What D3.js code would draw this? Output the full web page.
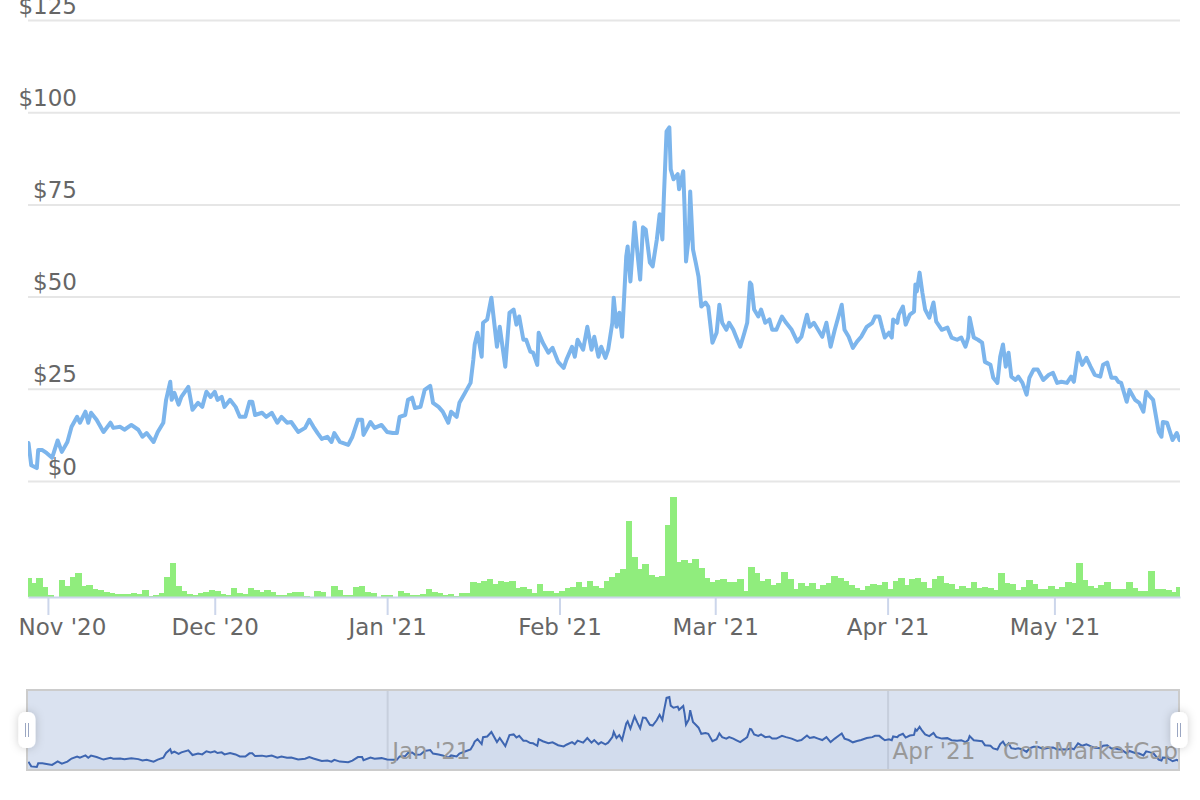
<!DOCTYPE html>
<html lang="en">
<head>
    <meta charset="UTF-8">
    <title>Price and volume</title>
    <style>
        body { margin: 0; background: #ffffff; }
        svg { display: block; font-family: "DejaVu Sans", sans-serif; }
    </style>
</head>
<body>
<svg id="chart"></svg>
<script src="https://d3js.org/d3.v7.min.js"></script>
<script>
    // price (USD)
    var priceTimes = [
        "2020-10-28 12", "2020-10-29 00", "2020-10-30 00", "2020-10-30 06", "2020-10-31 00", "2020-10-31 18",
        "2020-11-01 18", "2020-11-02 18", "2020-11-03 12", "2020-11-04 12", "2020-11-05 06", "2020-11-06 06",
        "2020-11-06 18", "2020-11-07 18", "2020-11-08 06", "2020-11-08 18", "2020-11-09 18", "2020-11-11 00",
        "2020-11-12 06", "2020-11-12 18", "2020-11-14 00", "2020-11-14 18", "2020-11-16 00", "2020-11-17 06",
        "2020-11-18 00", "2020-11-18 18", "2020-11-20 00", "2020-11-20 18", "2020-11-21 18", "2020-11-22 06",
        "2020-11-23 00", "2020-11-23 06", "2020-11-23 18", "2020-11-24 12", "2020-11-25 00", "2020-11-26 06",
        "2020-11-27 00", "2020-11-28 00", "2020-11-28 18", "2020-11-29 12", "2020-11-30 06", "2020-12-01 00",
        "2020-12-01 12", "2020-12-02 06", "2020-12-02 18", "2020-12-03 18", "2020-12-04 18", "2020-12-05 12",
        "2020-12-06 12", "2020-12-07 06", "2020-12-07 18", "2020-12-08 06", "2020-12-09 12", "2020-12-10 06",
        "2020-12-11 06", "2020-12-12 06", "2020-12-13 00", "2020-12-14 00", "2020-12-14 18", "2020-12-16 00",
        "2020-12-17 06", "2020-12-18 00", "2020-12-18 18", "2020-12-19 12", "2020-12-20 06", "2020-12-21 06",
        "2020-12-22 00", "2020-12-22 12", "2020-12-23 12", "2020-12-25 00", "2020-12-25 18", "2020-12-26 18",
        "2020-12-27 12", "2020-12-27 18", "2020-12-29 00", "2020-12-29 18", "2020-12-31 00", "2021-01-01 00",
        "2021-01-02 00", "2021-01-02 18", "2021-01-03 06", "2021-01-04 06", "2021-01-04 18", "2021-01-05 12",
        "2021-01-06 00", "2021-01-07 00", "2021-01-07 18", "2021-01-08 18", "2021-01-09 06", "2021-01-10 06",
        "2021-01-11 00", "2021-01-12 00", "2021-01-12 12", "2021-01-13 12", "2021-01-14 00", "2021-01-15 00",
        "2021-01-16 00", "2021-01-16 12", "2021-01-16 18", "2021-01-17 06", "2021-01-18 00", "2021-01-18 06",
        "2021-01-19 00", "2021-01-19 18", "2021-01-20 18", "2021-01-21 06", "2021-01-22 06", "2021-01-23 00",
        "2021-01-23 18", "2021-01-24 06", "2021-01-24 18", "2021-01-25 12", "2021-01-26 00", "2021-01-26 18",
        "2021-01-27 06", "2021-01-28 00", "2021-01-28 06", "2021-01-29 00", "2021-01-30 00", "2021-01-30 18",
        "2021-01-31 18", "2021-02-01 18", "2021-02-02 06", "2021-02-03 06", "2021-02-03 18", "2021-02-04 06",
        "2021-02-05 06", "2021-02-06 00", "2021-02-06 18", "2021-02-07 06", "2021-02-08 00", "2021-02-08 12",
        "2021-02-09 06", "2021-02-09 18", "2021-02-10 12", "2021-02-10 18", "2021-02-11 06", "2021-02-11 18",
        "2021-02-12 06", "2021-02-13 00", "2021-02-13 06", "2021-02-13 18", "2021-02-14 12", "2021-02-15 00",
        "2021-02-15 12", "2021-02-16 00", "2021-02-16 12", "2021-02-17 06", "2021-02-17 18", "2021-02-18 12",
        "2021-02-19 00", "2021-02-19 12", "2021-02-19 18", "2021-02-20 06", "2021-02-20 18", "2021-02-21 00",
        "2021-02-21 12", "2021-02-22 06", "2021-02-22 12", "2021-02-23 06", "2021-02-23 12", "2021-02-23 18",
        "2021-02-24 06", "2021-02-24 12", "2021-02-25 00", "2021-02-25 12", "2021-02-26 00", "2021-02-26 12",
        "2021-02-27 06", "2021-02-27 18", "2021-02-28 12", "2021-03-01 06", "2021-03-01 18", "2021-03-02 06",
        "2021-03-03 00", "2021-03-03 12", "2021-03-04 06", "2021-03-04 18", "2021-03-05 12", "2021-03-06 06",
        "2021-03-06 18", "2021-03-07 06", "2021-03-07 12", "2021-03-08 00", "2021-03-08 18", "2021-03-09 06",
        "2021-03-10 00", "2021-03-10 18", "2021-03-11 06", "2021-03-12 00", "2021-03-13 00", "2021-03-13 18",
        "2021-03-14 18", "2021-03-15 18", "2021-03-16 12", "2021-03-17 12", "2021-03-18 00", "2021-03-18 18",
        "2021-03-19 12", "2021-03-20 06", "2021-03-21 00", "2021-03-21 18", "2021-03-22 12", "2021-03-23 06",
        "2021-03-23 18", "2021-03-24 06", "2021-03-25 00", "2021-03-25 18", "2021-03-26 12", "2021-03-27 06",
        "2021-03-28 06", "2021-03-29 06", "2021-03-29 18", "2021-03-30 12", "2021-03-31 00", "2021-03-31 12",
        "2021-04-01 06", "2021-04-01 18", "2021-04-02 00", "2021-04-02 18", "2021-04-03 00", "2021-04-03 18",
        "2021-04-04 06", "2021-04-05 00", "2021-04-05 18", "2021-04-06 00", "2021-04-06 06", "2021-04-06 18",
        "2021-04-07 06", "2021-04-07 18", "2021-04-08 12", "2021-04-09 06", "2021-04-09 18", "2021-04-10 18",
        "2021-04-11 18", "2021-04-12 12", "2021-04-13 12", "2021-04-14 06", "2021-04-15 00", "2021-04-15 12",
        "2021-04-15 18", "2021-04-16 12", "2021-04-17 06", "2021-04-18 00", "2021-04-18 12", "2021-04-19 12",
        "2021-04-20 00", "2021-04-20 18", "2021-04-21 06", "2021-04-21 18", "2021-04-22 06", "2021-04-22 18",
        "2021-04-23 06", "2021-04-24 00", "2021-04-24 12", "2021-04-25 06", "2021-04-26 00", "2021-04-26 12",
        "2021-04-27 06", "2021-04-28 00", "2021-04-29 00", "2021-04-30 00", "2021-04-30 18", "2021-05-01 12",
        "2021-05-02 06", "2021-05-03 06", "2021-05-04 00", "2021-05-04 12", "2021-05-05 06", "2021-05-06 00",
        "2021-05-06 18", "2021-05-07 12", "2021-05-08 06", "2021-05-09 06", "2021-05-09 18", "2021-05-10 12",
        "2021-05-11 06", "2021-05-12 00", "2021-05-12 12", "2021-05-13 00", "2021-05-14 00", "2021-05-14 12",
        "2021-05-15 12", "2021-05-16 06", "2021-05-17 00", "2021-05-17 12", "2021-05-18 06", "2021-05-18 18",
        "2021-05-19 18", "2021-05-20 06", "2021-05-20 12", "2021-05-21 06", "2021-05-22 06", "2021-05-23 00",
        "2021-05-23 12"
    ];
    var priceValues = [
        10.3, 4.3, 3.5, 8.4, 8.4, 7.6,
        6.3, 11, 7.9, 10.6, 14.7, 17.4,
        15.8, 18.8, 15.8, 18.5, 16.6, 13.3,
        15.8, 14.4, 14.7, 13.9, 15.2, 13.9,
        12, 13, 10.6, 13.3, 15.8, 22,
        26.9, 22, 23.9, 20.7, 22.8, 25.5,
        19.3, 21.2, 20.1, 24.2, 22.8, 24.2,
        22, 22.8, 20.1, 22, 20.1, 17.4,
        17.4, 21.5, 21.5, 17.9, 18.5, 17.4,
        18.5, 15.8, 17.4, 15.8, 16, 13.3,
        14.4, 16.6, 14.7, 13, 11.4, 12,
        10.6, 13, 10.6, 9.8, 12, 16.6,
        16.6, 12.5, 16, 14.4, 15.2, 13.3,
        13, 13, 17.4, 17.9, 22, 22.6,
        19.8, 20.1, 24.7, 25.8, 21.2, 20.1,
        18.8, 15.8, 18.8, 17.4, 21.2, 23.9,
        26.6, 32.9, 37, 40.2, 33.7, 42.9,
        43.8, 49.7, 36.4, 41.8, 31, 45.6,
        46.5, 42.4, 44.6, 38.3, 38.3, 35.1,
        34.8, 31.5, 40.2, 37.5, 34.8, 36.1,
        32.3, 30.7, 32.9, 36.4, 33.7, 38.3,
        35.6, 41.8, 35.6, 39.1, 33.7, 36.4,
        33.4, 35.6, 42.9, 49.7, 41.8, 45.6,
        39.1, 60.9, 63.6, 54.1, 70.1, 62,
        54.6, 68.8, 68.2, 59.2, 58.2, 65.5,
        72.3, 65.5, 76.4, 94.8, 95.9, 84.5,
        81.8, 83.2, 79.1, 84, 73.6, 59.5,
        66.3, 78.5, 62.8, 59.2, 55.4, 47.3,
        48.4, 47.3, 37.5, 40.2, 47.8, 42.9,
        41, 42.9, 41, 39.1, 36.4, 40.2,
        42.9, 53.8, 53.3, 46.5, 44.6, 46.5,
        42.9, 43.8, 41, 41, 44.6, 42.9,
        41, 37.8, 39.1, 45.1, 41.8, 42.9,
        41, 39.1, 42.9, 36.4, 41, 45.1,
        47.8, 41, 39.1, 36.1, 37.8, 39.1,
        41.8, 42.9, 44.6, 44.6, 41.6, 38.9,
        40.2, 38.9, 43.8, 42.9, 45.1, 47.3,
        42.4, 45.1, 45.9, 53.3, 51.4, 56.5,
        51.1, 46.5, 44.3, 48.4, 43.2, 41,
        41.6, 38.9, 38.3, 38.9, 36.4, 38.9,
        44.3, 38.9, 38.3, 37.5, 32.3, 31.5,
        28, 26.6, 33.7, 37, 31, 34.8,
        28.3, 27.4, 28.3, 26.6, 23.4, 28,
        30.2, 30.2, 27.4, 28.8, 29.3, 26.6,
        26.9, 26.6, 28.3, 26.9, 34.8, 31.5,
        33.4, 31, 28.8, 28.3, 31.5, 32.1,
        28, 28, 26.9, 26.6, 21.5, 24.7,
        22, 21.2, 18.8, 24.2, 22.8, 22,
        13.3, 12, 16, 15.8, 11.1, 13,
        11.1
    ];

    // daily volume from 2020-10-28 (relative units, $M)
    var volumeStart = "2020-10-28";
    var volumeValues = [
        19, 14, 19, 10, 2, 0, 17, 11, 20, 24,
        11, 12, 8, 7, 5, 4, 3, 3, 3, 4,
        3, 7, 1, 2, 4, 20, 34, 11, 6, 3,
        2, 4, 5, 7, 6, 3, 2, 9, 4, 3,
        9, 7, 5, 7, 5, 2, 2, 4, 5, 5,
        1, 0, 6, 5, 0, 11, 7, 2, 2, 10,
        11, 5, 4, 0, 2, 2, 0, 6, 4, 2,
        2, 3, 8, 5, 4, 2, 3, 1, 4, 4,
        15, 14, 16, 18, 13, 16, 15, 16, 9, 10,
        8, 4, 13, 6, 6, 4, 6, 9, 10, 15,
        10, 16, 11, 9, 16, 20, 24, 28, 76, 40,
        28, 33, 22, 20, 21, 72, 100, 35, 37, 34,
        38, 29, 19, 15, 17, 18, 15, 15, 18, 6,
        30, 24, 16, 18, 12, 14, 25, 18, 8, 14,
        11, 14, 8, 12, 14, 21, 19, 16, 12, 9,
        7, 11, 13, 12, 15, 8, 16, 19, 12, 18,
        19, 15, 9, 18, 21, 14, 13, 8, 11, 9,
        15, 9, 10, 9, 7, 24, 14, 13, 7, 10,
        17, 13, 8, 8, 11, 8, 10, 15, 14, 34,
        17, 11, 9, 12, 15, 8, 8, 8, 15, 9,
        6, 6, 26, 8, 8, 7, 5, 10
    ];

    var yTicks = [0, 25, 50, 75, 100, 125];
    var navTicks = ["2021-01-01", "2021-04-01"];
    var viewStart = "2020-10-28 10";
    var viewEnd = "2021-05-23 14";

    var width = 1200;
    var height = 800;
    var left = 28;
    var right = 1180;
    var navTop = 690;
    var navBottom = 770;
    var axisY = 597;
    var labelFont = 23;

    var parseTime = d3.utcParse("%Y-%m-%d %H");
    var parseDay = d3.utcParse("%Y-%m-%d");

    var prices = priceTimes.map(function (t, i) {
        return {date: parseTime(t), value: priceValues[i]};
    });
    var volumes = volumeValues.map(function (v, i) {
        return {date: d3.utcDay.offset(parseDay(volumeStart), i), value: v};
    });

    var xScale = d3.scaleUtc().domain([parseTime(viewStart), parseTime(viewEnd)]).range([left, right]);
    var yScale = d3.scaleLinear().domain([0, 125]).range([481, 20]);
    var volScale = d3.scaleLinear().domain([0, 104]).range([axisY, 493]);
    var navScale = d3.scaleLinear().domain(d3.extent(priceValues)).range([767, 697]);

    var svg = d3.select("#chart")
        .attr("width", width)
        .attr("height", height);

    var defs = svg.append("defs");
    defs.append("clipPath").attr("id", "plotClip")
        .append("rect").attr("x", left).attr("y", 0).attr("width", right - left).attr("height", axisY);
    var shadow = defs.append("filter").attr("id", "handleShadow")
        .attr("x", "-100%").attr("y", "-100%").attr("width", "300%").attr("height", "300%");
    shadow.append("feDropShadow").attr("dx", 0).attr("dy", 0).attr("stdDeviation", 5)
        .attr("flood-color", "#000").attr("flood-opacity", 0.2);

    // y grid and labels
    var yAxis = svg.append("g")
        .attr("transform", "translate(" + left + ",0)")
        .call(d3.axisLeft(yScale).tickValues(yTicks).tickSize(-(right - left))
            .tickFormat(function (d) { return "$" + d; }));
    yAxis.select(".domain").remove();
    yAxis.selectAll(".tick line").attr("stroke", "#e6e6e6").attr("stroke-width", 2);
    yAxis.selectAll(".tick text")
        .attr("x", 77 - left).attr("y", -7).attr("dy", 0)
        .attr("text-anchor", "end")
        .attr("font-family", "DejaVu Sans, sans-serif")
        .attr("font-size", labelFont)
        .attr("fill", "#666666");

    // volume
    svg.append("g").attr("clip-path", "url(#plotClip)")
        .attr("shape-rendering", "crispEdges")
        .selectAll("rect")
        .data(volumes.filter(function (d) { return d.value > 0; }))
        .enter().append("rect")
        .attr("x", function (d) { return Math.floor(xScale(d.date)); })
        .attr("width", function (d) { return Math.ceil(xScale(d3.utcDay.offset(d.date, 1))) - Math.floor(xScale(d.date)); })
        .attr("y", function (d) { return volScale(d.value); })
        .attr("height", function (d) { return axisY - volScale(d.value); })
        .attr("fill", "#90ed7d");

    // x axis
    var xAxis = svg.append("g")
        .attr("transform", "translate(0," + axisY + ")")
        .call(d3.axisBottom(xScale).ticks(d3.utcMonth.every(1)).tickSizeInner(18).tickSizeOuter(0)
            .tickFormat(d3.utcFormat("%b '%y")));
    xAxis.select(".domain").attr("stroke", "#ccd6eb").attr("stroke-width", 2);
    xAxis.selectAll(".tick line").attr("stroke", "#ccd6eb").attr("stroke-width", 2);
    xAxis.selectAll(".tick text")
        .attr("y", 38).attr("dy", 0)
        .attr("font-family", "DejaVu Sans, sans-serif")
        .attr("font-size", labelFont)
        .attr("fill", "#666666")
        .each(function (d) {
            var w = this.getComputedTextLength();
            var cx = xScale(d);
            if (cx - w / 2 < 18) d3.select(this).attr("x", 18 + w / 2 - cx);
        });

    // price line
    var line = d3.line()
        .x(function (d) { return xScale(d.date); })
        .y(function (d) { return yScale(d.value); });
    svg.append("path")
        .datum(prices)
        .attr("clip-path", "url(#plotClip)")
        .attr("d", line)
        .attr("fill", "none")
        .attr("stroke", "#7cb5ec")
        .attr("stroke-width", 4)
        .attr("stroke-linejoin", "round")
        .attr("stroke-linecap", "round");

    // navigator
    var nav = svg.append("g");
    var navAxis = nav.append("g")
        .attr("transform", "translate(0," + navBottom + ")")
        .call(d3.axisBottom(xScale).tickValues(navTicks.map(parseDay)).tickSize(-(navBottom - navTop))
            .tickFormat(d3.utcFormat("%b '%y")));
    navAxis.select(".domain").remove();
    navAxis.selectAll(".tick line").attr("stroke", "#e6e6e6").attr("stroke-width", 2);
    navAxis.selectAll(".tick text").remove();

    var navArea = d3.area()
        .x(function (d) { return xScale(d.date); })
        .y0(navBottom)
        .y1(function (d) { return navScale(d.value); });
    var navLine = d3.line()
        .x(function (d) { return xScale(d.date); })
        .y(function (d) { return navScale(d.value); });
    nav.append("path").datum(prices).attr("d", navArea)
        .attr("fill", "#335cad").attr("fill-opacity", 0.05);
    nav.append("path").datum(prices).attr("d", navLine)
        .attr("fill", "none").attr("stroke", "#335cad").attr("stroke-width", 2);

    nav.append("rect")
        .attr("x", left - 1).attr("y", navTop)
        .attr("width", right - left).attr("height", navBottom - navTop)
        .attr("fill", "rgba(102,133,194,0.24)");

    nav.selectAll("text.navLabel")
        .data(navTicks.map(parseDay))
        .enter().append("text")
        .attr("class", "navLabel")
        .attr("x", function (d) { return xScale(d) + 5; })
        .attr("y", 759)
        .attr("font-size", labelFont)
        .attr("fill", "#999999")
        .text(d3.utcFormat("%b '%y"));

    nav.append("text")
        .attr("x", 1003).attr("y", 759)
        .attr("font-size", labelFont)
        .attr("fill", "#999999")
        .text("CoinMarketCap");

    nav.append("rect")
        .attr("x", left - 1).attr("y", navTop)
        .attr("width", right - left).attr("height", navBottom - navTop)
        .attr("fill", "none").attr("stroke", "#cccccc").attr("stroke-width", 2);

    var handles = nav.selectAll("g.handle")
        .data([left - 1, right - 1])
        .enter().append("g")
        .attr("class", "handle")
        .attr("transform", function (d) { return "translate(" + d + "," + (navTop + navBottom) / 2 + ")"; });
    handles.append("rect")
        .attr("x", -8.5).attr("y", -18).attr("width", 17).attr("height", 36).attr("rx", 7)
        .attr("fill", "#ffffff").attr("filter", "url(#handleShadow)");
    handles.selectAll("line")
        .data([-1.5, 1.5])
        .enter().append("line")
        .attr("x1", function (d) { return d; }).attr("x2", function (d) { return d; })
        .attr("y1", -7).attr("y2", 7)
        .attr("stroke", "#9aa6c2").attr("stroke-width", 1);
</script>
</body>
</html>
